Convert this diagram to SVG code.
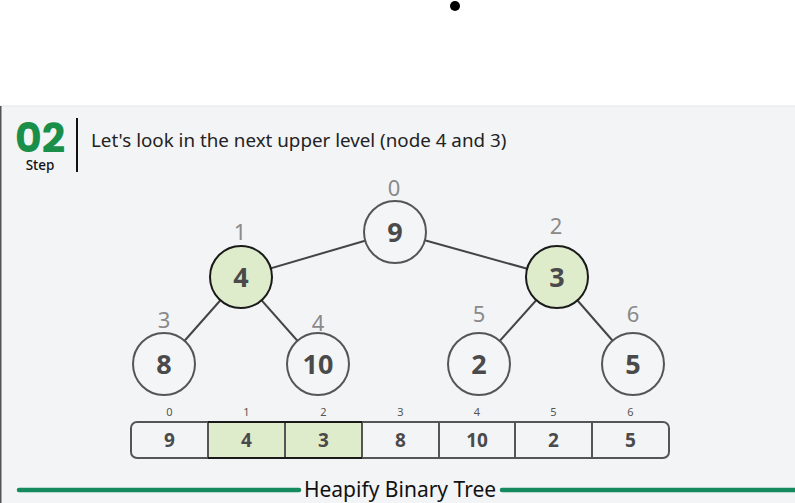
<svg xmlns="http://www.w3.org/2000/svg" width="795" height="503" viewBox="0 0 795 503">
<style>
.node circle{fill:#f4f5f7;stroke:#555;stroke-width:2}
.node.hl circle{fill:#dfeccc;stroke:#1a1a1a}
.val{font-family:"Noto Sans","Open Sans",sans-serif;font-weight:bold;font-size:27px;fill:#4a4a4a;text-anchor:middle}
.idx{font-family:"Noto Sans","Open Sans",sans-serif;font-size:22px;fill:#8a8a8a;text-anchor:middle}
.cell{fill:none;stroke:#555;stroke-width:2}
.cval{font-family:"Noto Sans","Open Sans",sans-serif;font-weight:bold;font-size:19px;fill:#4a4a4a;text-anchor:middle}
.cidx{font-family:"Noto Sans","Open Sans",sans-serif;font-size:11px;fill:#555;text-anchor:middle}
.edge{stroke:#444;stroke-width:2}
</style>
<rect x="0" y="0" width="795" height="503" fill="#ffffff"/>
<circle cx="455" cy="6" r="5" fill="#000"/>
<rect x="0" y="106" width="795" height="397" fill="#f3f4f6"/>
<line x1="0" y1="106" x2="795" y2="106" stroke="#e4e5e8" stroke-width="1"/>
<line x1="0.75" y1="106" x2="0.75" y2="503" stroke="#555" stroke-width="1.5"/>

<g id="header">
<text x="40" y="152" font-family="Poppins,'Noto Sans','Open Sans',sans-serif" font-weight="bold" font-size="41" fill="#1a8f4a" text-anchor="middle">02</text>
<text x="40" y="170" font-family="'Noto Sans','Open Sans',sans-serif" font-weight="500" font-size="13.5" fill="#111" text-anchor="middle">Step</text>
<line x1="77" y1="118" x2="77" y2="172" stroke="#111" stroke-width="2"/>
<text x="91" y="147" font-family="'Noto Sans','Open Sans',sans-serif" font-size="18.8" fill="#222">Let's look in the next upper level (node 4 and 3)</text>
</g>

<g id="connectors">
<line class="edge" x1="395" y1="232" x2="241" y2="277"/>
<line class="edge" x1="395" y1="232" x2="557" y2="277"/>
<line class="edge" x1="241" y1="277" x2="164" y2="364"/>
<line class="edge" x1="241" y1="277" x2="318" y2="364"/>
<line class="edge" x1="557" y1="277" x2="479" y2="364"/>
<line class="edge" x1="557" y1="277" x2="633" y2="364"/>
</g>

<g id="node0" class="node"><circle cx="395" cy="232" r="31"/><text class="val" x="395" y="242">9</text><text class="idx" x="394" y="196">0</text></g>
<g id="node1" class="node hl"><circle cx="241" cy="277" r="31"/><text class="val" x="241" y="287">4</text><text class="idx" x="240" y="240">1</text></g>
<g id="node2" class="node hl"><circle cx="557" cy="277" r="31"/><text class="val" x="557" y="287">3</text><text class="idx" x="556" y="234">2</text></g>
<g id="node3" class="node"><circle cx="164" cy="364" r="31"/><text class="val" x="164" y="374">8</text><text class="idx" x="164" y="328">3</text></g>
<g id="node4" class="node"><circle cx="318" cy="364" r="31"/><text class="val" x="318" y="374">10</text><text class="idx" x="318" y="331">4</text></g>
<g id="node5" class="node"><circle cx="479" cy="364" r="31"/><text class="val" x="479" y="374">2</text><text class="idx" x="479" y="322">5</text></g>
<g id="node6" class="node"><circle cx="633" cy="364" r="31"/><text class="val" x="633" y="374">5</text><text class="idx" x="633" y="322">6</text></g>

<g id="array">
<rect x="208" y="422" width="154" height="36" fill="#dfeccc"/>
<rect class="cell" x="131" y="422" width="538" height="36" rx="6"/>
<line class="cell" x1="208" y1="422" x2="208" y2="458" stroke="#1a1a1a"/>
<line class="cell" x1="285" y1="422" x2="285" y2="458" stroke="#1a1a1a"/>
<line class="cell" x1="362" y1="422" x2="362" y2="458" stroke="#1a1a1a"/>
<line class="cell" x1="439" y1="422" x2="439" y2="458"/>
<line class="cell" x1="515" y1="422" x2="515" y2="458"/>
<line class="cell" x1="592" y1="422" x2="592" y2="458"/>
<path d="M208 422 H362 M208 458 H362" stroke="#1a1a1a" stroke-width="2" fill="none"/>
<text class="cval" x="169.5" y="447">9</text>
<text class="cval" x="246.5" y="447">4</text>
<text class="cval" x="323.5" y="447">3</text>
<text class="cval" x="400.5" y="447">8</text>
<text class="cval" x="477" y="447">10</text>
<text class="cval" x="553.5" y="447">2</text>
<text class="cval" x="630.5" y="447">5</text>
<text class="cidx" x="169.5" y="416">0</text>
<text class="cidx" x="246.5" y="416">1</text>
<text class="cidx" x="323.5" y="416">2</text>
<text class="cidx" x="400.5" y="416">3</text>
<text class="cidx" x="477" y="416">4</text>
<text class="cidx" x="553.5" y="416">5</text>
<text class="cidx" x="630.5" y="416">6</text>
</g>

<g id="footer">
<line x1="19" y1="490" x2="299" y2="490" stroke="#148a5e" stroke-width="4.5" stroke-linecap="round"/>
<line x1="502" y1="490" x2="800" y2="490" stroke="#148a5e" stroke-width="4.5" stroke-linecap="round"/>
<text x="400" y="497" font-family="'Noto Sans','Open Sans',sans-serif" font-size="21" fill="#111" text-anchor="middle">Heapify Binary Tree</text>
</g>
</svg>
